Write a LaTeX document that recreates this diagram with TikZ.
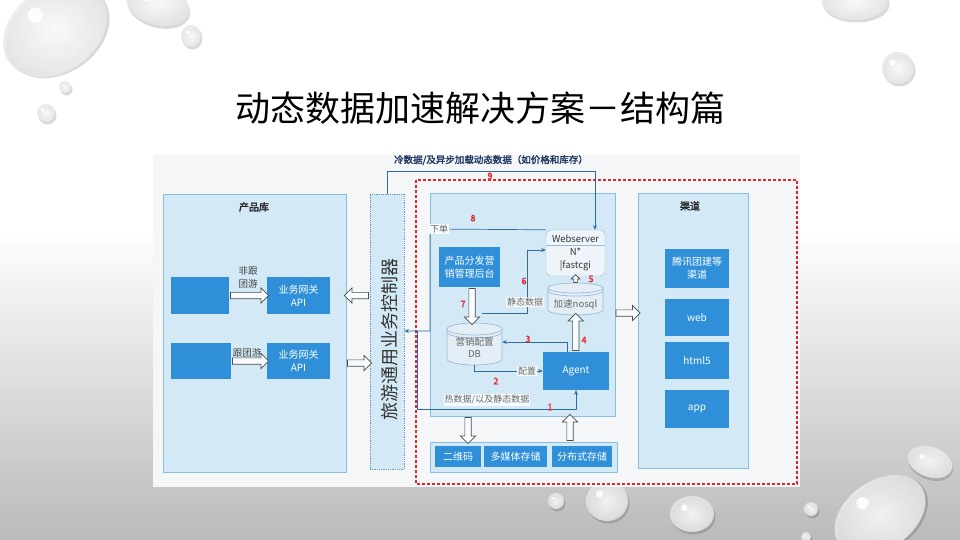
\documentclass[tikz,border=0pt]{standalone}
\usepackage{fontspec}
\setmainfont{Noto Sans CJK SC}[AutoFakeBold=2]
\usetikzlibrary{arrows.meta, calc, shapes.arrows}

\definecolor{panel}{HTML}{D3EAF6}
\definecolor{panelline}{HTML}{86BDE2}
\definecolor{boxblue}{HTML}{2F8FD8}
\definecolor{linkblue}{HTML}{2E6DA4}
\definecolor{numred}{HTML}{E3262B}
\definecolor{navy}{HTML}{1F3864}
\definecolor{cylfill}{HTML}{E3EEF7}
\definecolor{cylline}{HTML}{9DB9D3}
\definecolor{diagbg}{HTML}{F5F6F7}

\tikzset{
  panelbox/.style={draw=panelline, fill=panel, line width=0.8pt, inner sep=0pt},
  ctrlbox/.style={draw=panelline!80!black, fill=panel, line width=0.8pt, densely dotted, inner sep=0pt},
  bluebox/.style={fill=boxblue, text=white, font=\fontsize{10}{13}\selectfont, align=center, inner sep=0pt},
  headtext/.style={font=\bfseries\fontsize{10}{12}\selectfont, text=black!85},
  grouptext/.style={font=\fontsize{9.5}{13}\selectfont, text=black!75, align=center, inner sep=0pt},
  toptext/.style={font=\bfseries\fontsize{9.5}{11}\selectfont, text=navy},
  tag/.style={fill=white!85!panel, text=black!60, font=\fontsize{9}{10}\selectfont, inner sep=1pt},
  num/.style={text=numred, font=\bfseries\fontsize{9}{9}\selectfont, inner sep=0pt},
  webbox/.style={draw=cylline, fill=cylfill!60!white, rounded corners=5pt, align=center,
    font=\fontsize{9.5}{13}\selectfont, text=black!80, inner sep=0pt},
  anchorbox/.style={inner sep=0pt},
  cylstyle/.style={draw=cylline, fill=cylfill, line width=0.7pt},
  cyltext/.style={font=\fontsize{9.5}{12}\selectfont, text=black!60, align=center, inner sep=0pt},
  hollow/.style={single arrow, draw=black!70, fill=white!85!panel, line width=0.7pt,
    inner sep=2.8pt, single arrow head extend=4.5pt},
  hollowsmall/.style={hollow, inner sep=1.5pt, single arrow head extend=2.5pt},
  link/.style={draw=linkblue, line width=0.7pt, -{Stealth[length=4.5pt,width=4pt]}},
  reddash/.style={draw=numred, line width=1.6pt, dash pattern=on 3pt off 2pt}
}

% drum: centre x, centre y, half width, half height, ellipse radius
\newcommand{\dbdrum}[5]{%
  \filldraw[cylstyle] ({#1-#3},{#2-#4+#5}) -- ({#1-#3},{#2+#4-#5})
    arc[start angle=180, end angle=0, x radius=#3, y radius=#5] -- ({#1+#3},{#2-#4+#5}) -- cycle;
  \filldraw[cylstyle] (#1,{#2-#4+#5}) ellipse [x radius=#3, y radius=#5];
  \draw[cylstyle, fill=none] ({#1-#3},{#2-#4+#5+3}) arc[start angle=180, end angle=0, x radius=#3, y radius=#5];
}

\begin{document}
\begin{tikzpicture}[x=1pt, y=-1pt]
    % Slide background
    \useasboundingbox (0,0) rectangle (960,540);
    \fill[white] (0,0) rectangle (960,540);
    \shade[top color=white, bottom color=black!27] (0,230) rectangle (960,540);

    % Water drops
    \foreach \dx/\dy/\rx/\ry/\rot in {55/30/56/42/35, 158/5/32/20/-15, 191/36/10/11/0, 65/87/6/6/0,
                                     46/113/9/9/0, 855/2/33/18/0, 898/68/16/16/0, 930/462/23/15/-20,
                                     556/501/8/8/0, 607/501/21/20/0, 692/514/22/18/0, 811/509/7/7/0,
                                     806/537/5/5/0, 880/515/50/34/35}{
        \fill[black, opacity=0.15, rotate around={\rot:(\dx,\dy)}] ({\dx+1.5},{\dy+2.5}) ellipse [x radius=\rx pt, y radius=\ry pt];
        \shade[inner color=white, outer color=black!10, opacity=0.85, rotate around={\rot:(\dx,\dy)}] (\dx,\dy) ellipse [x radius=\rx pt, y radius=\ry pt];
        \fill[white, opacity=0.9] ({\dx-0.35*\rx},{\dy-0.35*\ry}) circle ({0.18*\ry pt});
    }

    % Title
    \node[font=\fontsize{35}{38}\selectfont, text=black] (title) at (480,108) {动态数据加速解决方案－结构篇};

    % Diagram area
    \fill[diagbg] (153,155) rectangle (800,487);

    % Product library
    \node[panelbox, minimum width=183pt, minimum height=278pt] (lib) at (254.5,333) {};
    \node[headtext] (lib-title) at (254,207) {产品库};
    \node[bluebox, minimum width=58pt, minimum height=37pt] (src1) at (200,295.5) {};
    \node[bluebox, minimum width=60pt, minimum height=36pt] (src2) at (201,361) {};
    \node[bluebox, minimum width=63pt, minimum height=37pt] (api1) at (298.5,295.5) {业务网关\\API};
    \node[bluebox, minimum width=63pt, minimum height=36pt] (api2) at (298.5,361) {业务网关\\API};
    \node[hollow, minimum height=38pt] (a-src1) at ($(src1.east)!0.5!(api1.west)$) {};
    \node[hollow, minimum height=36pt] (a-src2) at ($(src2.east)!0.5!(api2.west)$) {};
    \node[grouptext] (lbl-nongroup) at (248,277) {非跟\\团游};
    \node[grouptext] (lbl-group) at (247,353) {跟团游};

    % Business controller
    \node[ctrlbox, minimum width=34pt, minimum height=275pt] (ctrl) at (387,331.5) {};
    \node[rotate=90, font=\fontsize{18}{18}\selectfont, text=black!80] (ctrl-text) at (390,339) {旅游通用业务控制器};
    \node[hollow, minimum height=24pt, rotate=180] (a-ctrl-lib) at ($(lib.east |- api1)!0.5!(ctrl.west |- api1)$) {};
    \node[hollow, minimum height=24pt] (a-lib-ctrl) at ($(lib.east |- 0,363)!0.5!(ctrl.west |- 0,363)$) {};

    % Acceleration region
    \draw[reddash] (416,180) rectangle (797,484);

    % Core
    \node[panelbox, minimum width=185pt, minimum height=223pt] (core) at (522.5,304.5) {};
    \node[bluebox, minimum width=61pt, minimum height=40pt] (admin) at (469.5,267) {产品分发营\\销管理后台};
    \node[webbox, minimum width=59pt, minimum height=46pt] (web) at (575.5,253) {Webserver\\N*\\|fastcgi};
    \draw[cylline, line width=0.6pt] (web.west |- 0,245) -- (web.east |- 0,245);
    \dbdrum{575.5}{299}{27.5}{16}{5}
    \node[anchorbox, minimum width=55pt, minimum height=32pt] (nosql) at (575.5,299) {};
    \node[cyltext] (nosql-text) at (575.5,305) {加速nosql};
    \dbdrum{474.5}{344}{27.5}{21}{6}
    \node[anchorbox, minimum width=55pt, minimum height=42pt] (db) at (474.5,344) {};
    \node[cyltext] (db-text) at (474.5,348) {营销配置\\DB};
    \node[bluebox, minimum width=66pt, minimum height=38pt] (agent) at (576,371) {Agent};
    \node[hollow, minimum height=36pt, rotate=-90] (a7) at ($(admin.south)!0.5!(db.north)$) {};
    \node[hollowsmall, minimum height=8pt, rotate=90] (a5) at ($(nosql.north)!0.5!(web.south)$) {};
    \node[hollow, minimum height=37pt, rotate=90] (a4) at ($(agent.north)!0.5!(nosql.south)$) {};

    % Storage
    \node[panelbox, minimum width=187pt, minimum height=30pt] (store) at (523.5,457) {};
    \node[bluebox, minimum width=46pt, minimum height=21pt] (qr) at (458,456.5) {二维码};
    \node[bluebox, minimum width=63pt, minimum height=21pt] (media) at (515.5,456.5) {多媒体存储};
    \node[bluebox, minimum width=60pt, minimum height=21pt] (dist) at (582,456.5) {分布式存储};
    \node[hollow, minimum height=26pt, rotate=-90] (a-core-store) at (468,429) {};
    \node[hollow, minimum height=26pt, rotate=90] (a-store-core) at (570,429) {};

    % Channels
    \node[panelbox, minimum width=110pt, minimum height=275pt] (chan) at (693,330.5) {};
    \node[headtext] (chan-title) at (690,206) {渠道};
    \node[bluebox, minimum width=64pt, minimum height=39pt] (tencent) at (697,268.5) {腾讯团建等\\渠道};
    \node[bluebox, minimum width=64pt, minimum height=37pt] (ch-web) at (697,317.5) {web};
    \node[bluebox, minimum width=64pt, minimum height=37pt] (ch-h5) at (697,360.5) {html5};
    \node[bluebox, minimum width=64pt, minimum height=38pt] (ch-app) at (697,409) {app};
    \node[hollow, minimum height=24pt] (a-core-chan) at ($(core.east |- 0,313)!0.5!(chan.west |- 0,313)$) {};

    % 9: cold data
    \coordinate (c9) at (595,171);
    \draw[link] (ctrl.north) |- (c9) -- (c9 |- web.north);
    \node[toptext] (lbl-cold) at (491,160) {冷数据/及异步加载动态数据（如价格和库存）};
    \node[num] (n9) at (490,176) {9};

    % 8: order
    \coordinate (c8) at (430,229);
    \draw[link] (web.north west) -- (c8) |- (ctrl.east |- 0,331);
    \node[tag] (lbl-order) at (439,229) {下单};
    \node[num] (n8) at (473,218) {8};

    % 1: hot data
    \coordinate (c1) at (417,331);
    \coordinate (c1b) at (417,409);
    \draw[link] (c1) -- (c1b) -| (agent.south);
    \node[tag] (lbl-hot) at (487,400) {热数据/以及静态数据};
    \node[num] (n1) at (550,407) {1};

    % 2 and 3: config
    \draw[link] (db.south) |- (agent.west);
    \node[tag] (lbl-conf) at (527,371) {配置};
    \node[num] (n2) at (496,381) {2};
    \draw[link] ($(agent.north)+(-9,0)$) |- (db.east |- 0,342);
    \node[num] (n3) at (528,339) {3};
    \node[num] (n4) at (584,340) {4};
    \node[num] (n5) at (591,279) {5};

    % 6: static data
    \coordinate (c6) at (482,313);
    \coordinate (c6b) at (527,313);
    \draw[link] (c6) -- (c6b) |- (web.west |- 0,250);
    \node[tag] (lbl-static) at (525,302) {静态数据};
    \node[num] (n6) at (524,281) {6};
    \node[num] (n7) at (463,304) {7};
\end{tikzpicture}
\end{document}
